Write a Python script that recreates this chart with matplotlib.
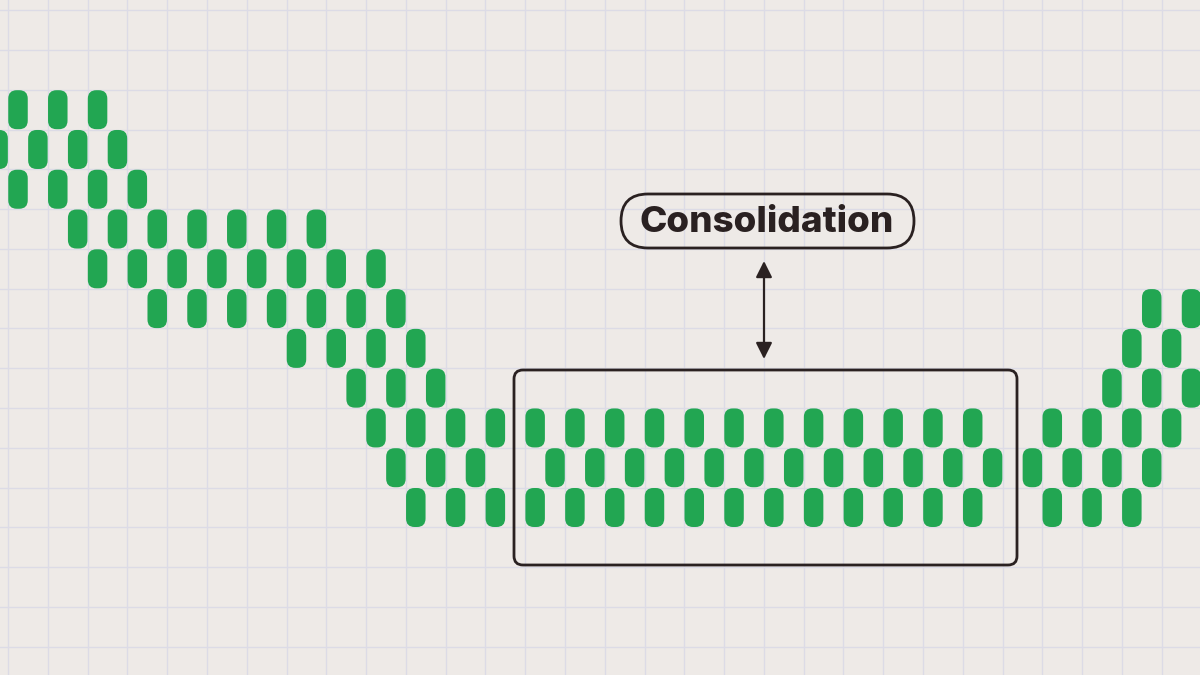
import matplotlib
matplotlib.use("Agg")
import matplotlib.pyplot as plt
from matplotlib.patches import FancyBboxPatch

# ---- data: point & figure style columns (column index, lowest level, highest level) ----
columns = list(range(-1, 60))
col_low = [9, 8, 9, 8, 7, 6, 7, 6, 5, 6, 5, 6, 5, 6, 5, 4, 5, 4, 3, 2, 1, 0, 1, 0, 1, 0,
           None,
           0, 1, 0, 1, 0, 1, 0, 1, 0, 1, 0, 1, 0, 1, 0, 1, 0, 1, 0, 1, 0, 1, 0, 1,
           None,
           1, 0, 1, 0, 1, 0, 1, 2, 3]
col_high = [9, 10, 9, 10, 9, 10, 9, 8, 7, 6, 7, 6, 7, 6, 7, 6, 7, 6, 5, 6, 5, 4, 3, 2, 1, 2,
            None,
            2, 1, 2, 1, 2, 1, 2, 1, 2, 1, 2, 1, 2, 1, 2, 1, 2, 1, 2, 1, 2, 1, 2, 1,
            None,
            1, 2, 1, 2, 3, 4, 5, 4, 5]
label_text = "Consolidation"

# ---- style ----
BG = "#EEEAE7"
GRID = "#DCDBE6"
GREEN = "#22A652"
DARK = "#2A2121"

W, H = 1200, 675
fig = plt.figure(figsize=(12, 6.75), dpi=100)
fig.patch.set_facecolor(BG)

ax = fig.add_axes([0, 0, 1, 1])
ax.set_facecolor(BG)
x0_px, dx_px = 18.0, 19.89
y0_px, dy_px = 109.7, 39.78

# grid
ax.set_xticks([-0.5 + 2 * n for n in range(-1, 32)])
ax.set_yticks([n + 0.5 for n in range(-6, 14)])
ax.grid(True, color=GRID, linewidth=1.0)
ax.tick_params(length=0, labelbottom=False, labelleft=False)
for s in ax.spines.values():
    s.set_visible(False)
ax.set_axisbelow(True)

pill_w = 19.5 / dx_px
pill_h = 39.0 / dy_px
aspect = dx_px / dy_px
rad = 8.5 / dx_px
for c, lo, hi in zip(columns, col_low, col_high):
    if lo is None:
        continue
    for lvl in range(lo, hi + 1, 2):
        p = FancyBboxPatch((c - pill_w / 2, lvl - pill_h / 2), pill_w, pill_h,
                           boxstyle=f"round,pad=0,rounding_size={rad}",
                           mutation_aspect=aspect,
                           facecolor=GREEN, edgecolor="none", zorder=3)
        ax.add_patch(p)

ax.set_xlim(-x0_px / dx_px, (W - x0_px) / dx_px)
ax.set_ylim(10 - (H - y0_px) / dy_px, 10 + y0_px / dy_px)

# ---- annotation overlay (pixel space) ----
ov = fig.add_axes([0, 0, 1, 1])
ov.set_xlim(0, W)
ov.set_ylim(H, 0)
ov.axis("off")
ov.patch.set_alpha(0)

box = FancyBboxPatch((514, 370), 503, 195,
                     boxstyle="round,pad=0,rounding_size=9",
                     facecolor="none", edgecolor=DARK, linewidth=2.0, zorder=5)
ov.add_patch(box)

lbl = FancyBboxPatch((621, 194), 293, 54,
                     boxstyle="round,pad=0,rounding_size=27",
                     facecolor="none", edgecolor=DARK, linewidth=2.0, zorder=5)
ov.add_patch(lbl)
ov.text(767, 222, label_text, ha="center", va="center", fontsize=26.5,
        fontweight=800, family=["Inter", "DejaVu Sans"], color=DARK, zorder=6)

ov.annotate("", xy=(764, 261), xytext=(764, 359),
            arrowprops=dict(arrowstyle="<|-|>,head_length=0.7,head_width=0.35",
                            color=DARK, lw=1.6, shrinkA=0, shrinkB=0,
                            mutation_scale=14))

fig.savefig("out.png", dpi=100, facecolor=BG)
